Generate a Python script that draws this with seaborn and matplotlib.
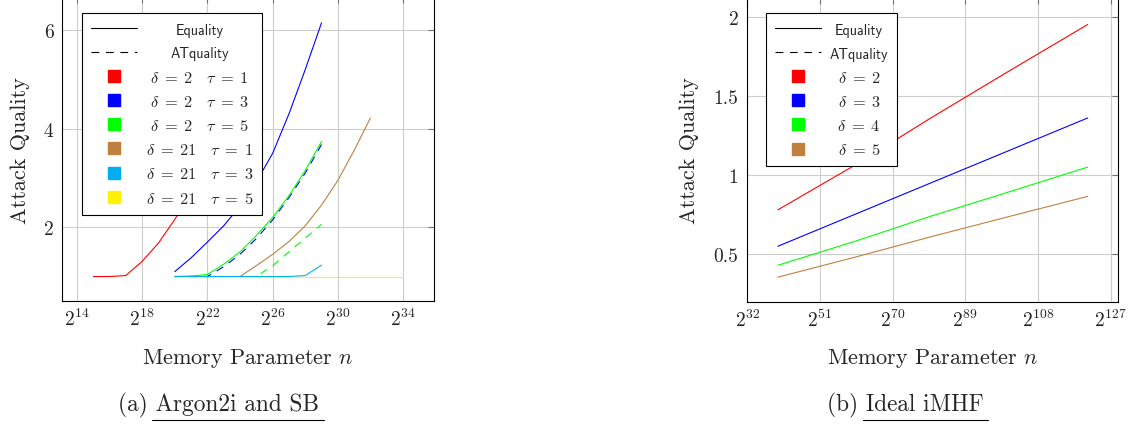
import numpy as np
import matplotlib
matplotlib.use("Agg")
from matplotlib import pyplot as plt
from matplotlib.lines import Line2D
from matplotlib.transforms import Affine2D
from matplotlib.ticker import FixedLocator, FuncFormatter, NullLocator
import seaborn as sns

# (a) Argon2i and SB -- x is log2(n), y is attack quality
red_eq_exp = [15, 16, 17, 18, 19, 20, 21, 22, 23, 24]
red_eq_q = [1.0, 1.0, 1.02, 1.31, 1.68, 2.16, 2.72, 3.38, 4.15, 5.05]
blue_eq_exp = [20, 21, 22, 23, 24, 25, 26, 27, 28, 29]
blue_eq_q = [1.1, 1.38, 1.7, 2.03, 2.43, 2.92, 3.5, 4.3, 5.2, 6.15]
green_eq_exp = [20, 21, 22, 23, 24, 25, 26, 27, 28, 29]
green_eq_q = [1.0, 1.01, 1.04, 1.25, 1.5, 1.83, 2.2, 2.64, 3.15, 3.74]
brown_eq_exp = [24, 25, 26, 27, 28, 29, 30, 31, 32]
brown_eq_q = [1.0, 1.22, 1.45, 1.71, 2.03, 2.45, 2.95, 3.56, 4.22]
cyan_eq_exp = [20, 21, 22, 23, 24, 25, 26, 27, 28, 29]
cyan_eq_q = [1.0, 1.0, 1.0, 1.0, 1.0, 1.0, 1.0, 1.0, 1.02, 1.23]
yellow_eq_exp = [25, 26, 27, 28, 29, 30, 31, 32, 33, 34]
yellow_eq_q = [1.0, 1.0, 1.0, 1.0, 1.0, 1.0, 1.0, 1.0, 1.0, 1.0]

blue_at_exp = [20, 21, 22, 23, 24, 25, 26, 27, 28, 29]
blue_at_q = [1.0, 1.0, 1.0, 1.2, 1.45, 1.77, 2.15, 2.6, 3.1, 3.68]
green_at_exp = [20, 21, 22, 23, 24, 25, 26, 27, 28, 29]
green_at_q = [1.0, 1.0, 1.0, 1.0, 1.0, 1.0, 1.22, 1.5, 1.78, 2.06]

# (b) Ideal iMHF
ideal_exp = [40, 60, 80, 100, 121]
d2_q = [0.78, 1.06, 1.36, 1.65, 1.95]
d3_q = [0.55, 0.75, 0.95, 1.15, 1.36]
d4_q = [0.43, 0.58, 0.74, 0.89, 1.05]
d5_q = [0.355, 0.48, 0.61, 0.735, 0.865]

RED, BLUE, GREEN = "#ff0000", "#0000ff", "#00ff00"
BROWN, CYAN, YELLOW = "#bf8040", "#00aeef", "#fff200"

left_labels = [r"$\delta\;=\;2\quad\tau\;=\;1$", r"$\delta\;=\;2\quad\tau\;=\;3$",
               r"$\delta\;=\;2\quad\tau\;=\;5$", r"$\delta\;=\;21\quad\tau\;=\;1$",
               r"$\delta\;=\;21\quad\tau\;=\;3$", r"$\delta\;=\;21\quad\tau\;=\;5$"]
right_labels = [r"$\delta\;=\;2$", r"$\delta\;=\;3$", r"$\delta\;=\;4$", r"$\delta\;=\;5$"]

sns.set_style("white")
plt.rcParams["font.family"] = ["cmr10", "DejaVu Serif"]
plt.rcParams["mathtext.fontset"] = "cm"
plt.rcParams["axes.unicode_minus"] = False
plt.rcParams["axes.formatter.use_mathtext"] = True

W, H = 1135, 427
fig = plt.figure(figsize=(W / 100, H / 100), dpi=100)
ax1 = fig.add_axes([62 / W, (H - 302.15) / H, 372 / W, 303.9 / H])
ax2 = fig.add_axes([746.7 / W, (H - 302.7) / H, 371.6 / W, 304.1 / H])


def draw(ax, exps, q, color, ls="-"):
    sns.lineplot(x=np.power(2.0, exps), y=q, ax=ax, color=color, lw=0.8,
                 linestyle=ls, estimator=None, legend=False)


DASH = (0, (7, 6))
draw(ax1, blue_at_exp, blue_at_q, BLUE, DASH)
draw(ax1, green_at_exp, green_at_q, GREEN, DASH)
draw(ax1, red_eq_exp, red_eq_q, RED)
draw(ax1, blue_eq_exp, blue_eq_q, BLUE)
draw(ax1, green_eq_exp, green_eq_q, GREEN)
draw(ax1, brown_eq_exp, brown_eq_q, BROWN)
draw(ax1, cyan_eq_exp, cyan_eq_q, CYAN)
draw(ax1, yellow_eq_exp, yellow_eq_q, YELLOW)

for q, c in zip([d2_q, d3_q, d4_q, d5_q], [RED, BLUE, GREEN, BROWN]):
    draw(ax2, ideal_exp, q, c)


def style(ax, xticks_exp, xlim_exp, yticks, ylim, ylab_x):
    ax.set_xscale("log", base=2)
    ax.set_xlim(2.0 ** xlim_exp[0], 2.0 ** xlim_exp[1])
    ax.set_ylim(*ylim)
    ax.xaxis.set_major_locator(FixedLocator([2.0 ** e for e in xticks_exp]))
    ax.xaxis.set_minor_locator(NullLocator())
    ax.xaxis.set_major_formatter(FuncFormatter(lambda v, p: f"$2^{{{round(np.log2(v))}}}$"))
    ax.set_yticks(yticks)
    ax.yaxis.set_major_formatter(FuncFormatter(lambda v, p: f"{v:g}"))
    ax.grid(True, color="#cccccc", lw=0.8)
    ax.tick_params(direction="in", length=4, width=0.8, color="#707070",
                   top=True, right=True, labelsize=14)
    ax.tick_params(axis="x", pad=5)
    ax.tick_params(axis="y", pad=6)
    for s in ax.spines.values():
        s.set_color("black")
        s.set_linewidth(0.8)
    ax.set_xlabel("Memory Parameter $n$", fontsize=16)
    ax.set_ylabel("Attack Quality", fontsize=16)
    h = ax.get_position().height * H
    ax.xaxis.set_label_coords(0.5, -(358 - 302) / h)
    ax.xaxis.label.set_va("center")
    ax.yaxis.set_label_coords(ylab_x, 0.5)
    ax.yaxis.label.set_va("center")


style(ax1, [14, 18, 22, 26, 30, 34], (13.08, 35.9), [2, 4, 6], (0.5, 6.67), (20 - 62) / 372)
style(ax2, [32, 51, 70, 89, 108, 127], (31.85, 129.0), [0.5, 1, 1.5, 2], (0.2, 2.12),
      (689 - 746.7) / 371.6)


def make_legend(ax, colors, labels, anchor):
    handles = [Line2D([], [], color="black", lw=0.8),
               Line2D([], [], color="black", lw=0.8, linestyle=DASH)]
    handles += [Line2D([], [], ls="none", marker="s", ms=8.5, color=c, mec=c) for c in colors]
    leg = ax.legend(handles, ["Equality", "ATquality"] + labels, loc="upper left",
                    bbox_to_anchor=anchor, borderaxespad=0, fancybox=False,
                    framealpha=1, edgecolor="black", handlelength=2.8, handletextpad=0.55,
                    labelspacing=0.56, borderpad=0.55,
                    prop={"family": "cmss10", "size": 11.8})
    leg.get_frame().set_linewidth(0.8)
    for t in leg.get_texts()[:2]:
        t.set_fontsize(10.2)
    return leg


leg1 = make_legend(ax1, [RED, BLUE, GREEN, BROWN, CYAN, YELLOW], left_labels, (0.053, 0.947))
leg2 = make_legend(ax2, [RED, BLUE, GREEN, BROWN], right_labels, (0.052, 0.948))

# captions
fig.text(218 / W, 1 - 405 / H, "(a) Argon2i and SB", ha="center", va="center", fontsize=16.8)
fig.text(905 / W, 1 - 405 / H, "(b) Ideal iMHF", ha="center", va="center", fontsize=16.8)
fig.add_artist(Line2D([152 / W, 324 / W], [1 - 421 / H] * 2, color="black", lw=0.8,
                      transform=fig.transFigure))
fig.add_artist(Line2D([863 / W, 988 / W], [1 - 421 / H] * 2, color="black", lw=0.8,
                      transform=fig.transFigure))

# centre legend labels in their column, like pgfplots does
fig.canvas.draw()
r = fig.canvas.get_renderer()
for leg in (leg1, leg2):
    texts = leg.get_texts()
    widths = [t.get_window_extent(r).width for t in texts]
    wmax = max(widths)
    for t, w in zip(texts, widths):
        t.set_transform(t.get_transform() + Affine2D().translate((wmax - w) / 2, 0))

fig.savefig("out.png", dpi=100)
